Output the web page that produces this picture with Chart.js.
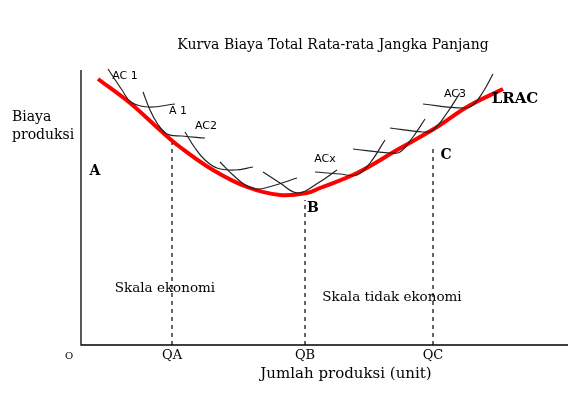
<!DOCTYPE html>
<html>
<head>
<meta charset="utf-8">
<script src="https://cdn.jsdelivr.net/npm/chart.js@4/dist/chart.umd.min.js"></script>
<style>
  body { margin: 0; background: #fff; }
  canvas { display: block; }
</style>
</head>
<body>
<canvas id="grafik" width="568" height="396"></canvas>
<script>
// jumlah produksi (sumbu x) dan biaya (sumbu y), satuan bebas dari titik O
const lracQ = [17, 49, 79, 99, 132, 166, 199, 226, 239, 276, 316, 356, 386, 422];
const lracBiaya = [266, 242, 215, 198, 175, 158, 150, 152, 157, 172, 195, 218, 238, 256];

// kurva biaya jangka pendek (AC1 ... AC3)
const acQ = [
  [27, 41, 50, 67, 94],
  [62, 69, 76, 86, 101, 124],
  [104, 114, 124, 136, 154, 172],
  [139, 152, 166, 179, 216],
  [182, 199, 217, 237, 256],
  [234, 259, 276, 289, 304],
  [272, 309, 319, 332, 344],
  [309, 342, 352, 366, 379],
  [342, 382, 392, 402, 412]
];
const acBiaya = [
  [276, 255, 243, 238, 241],
  [253, 235, 222, 211, 209, 207],
  [213, 197, 185, 177, 175, 178],
  [183, 170, 159, 156, 167],
  [173, 162, 152, 162, 175],
  [173, 171, 170, 182, 205],
  [196, 192, 193, 208, 226],
  [217, 213, 215, 232, 252],
  [241, 237, 240, 253, 271]
];

const tickQ = [91, 224, 352];
const tickLabel = ['QA', 'QB', 'QC'];
const garisPutusAtas = [202, 145, 199];

const sumbuXMaks = 487;
const sumbuYMaks = 275;

function titik(xs, ys) {
  return xs.map((x, i) => ({ x: x, y: ys[i] }));
}

const datasets = [];

// sumbu
datasets.push({
  data: [{ x: 0, y: sumbuYMaks }, { x: 0, y: 0 }, { x: sumbuXMaks, y: 0 }],
  borderColor: '#000', borderWidth: 1.3, tension: 0
});

// garis putus-putus QA, QB, QC
tickQ.forEach((q, i) => {
  datasets.push({
    data: [{ x: q, y: 0 }, { x: q, y: garisPutusAtas[i] }],
    borderColor: '#000', borderWidth: 1.2, borderDash: [4, 4], tension: 0
  });
});

acQ.forEach((xs, i) => {
  datasets.push({
    data: titik(xs, acBiaya[i]),
    borderColor: '#222', borderWidth: 1.2, tension: 0.4
  });
});

datasets.push({
  data: titik(lracQ, lracBiaya),
  borderColor: '#ff0000', borderWidth: 4, tension: 0.4
});

const teks = [
  { t: 'Kurva Biaya Total Rata-rata Jangka Panjang', x: 333, y: 45, f: '14px "DejaVu Serif"' },
  { t: 'Biaya', x: 12, y: 117, f: '14px "DejaVu Serif"', a: 'left' },
  { t: 'produksi', x: 12, y: 135, f: '14px "DejaVu Serif"', a: 'left' },
  { t: 'AC 1', x: 125, y: 76, f: '11px "DejaVu Sans"' },
  { t: 'A 1', x: 178, y: 111, f: '11px "DejaVu Sans"' },
  { t: 'AC2', x: 206, y: 126, f: '11px "DejaVu Sans"' },
  { t: 'ACx', x: 325, y: 159, f: '11px "DejaVu Sans"' },
  { t: 'AC3', x: 455, y: 94, f: '11px "DejaVu Sans"' },
  { t: 'LRAC', x: 515, y: 99, f: 'bold 15px "DejaVu Serif"' },
  { t: 'A', x: 95, y: 171, f: 'bold 14px "DejaVu Serif"' },
  { t: 'B', x: 313, y: 208, f: 'bold 14px "DejaVu Serif"' },
  { t: 'C', x: 446, y: 155, f: 'bold 14px "DejaVu Serif"' },
  { t: 'Skala ekonomi', x: 165, y: 288, f: '13.5px "DejaVu Serif"' },
  { t: 'Skala tidak ekonomi', x: 392, y: 297, f: '13.5px "DejaVu Serif"' },
  { t: 'O', x: 69, y: 356, f: '10px "DejaVu Serif"' },
  { t: 'Jumlah produksi (unit)', x: 346, y: 374, f: '15px "DejaVu Serif"' }
];

const pluginTeks = {
  id: 'teks',
  afterDatasetsDraw(chart) {
    const ctx = chart.ctx;
    const sx = chart.scales.x;
    ctx.save();
    ctx.fillStyle = '#000';
    ctx.textBaseline = 'middle';
    teks.forEach(item => {
      ctx.font = item.f;
      ctx.textAlign = item.a || 'center';
      ctx.fillText(item.t, item.x, item.y);
    });
    // label QA QB QC di bawah sumbu
    ctx.font = '13px "DejaVu Serif"';
    ctx.textAlign = 'center';
    tickQ.forEach((q, i) => {
      ctx.fillText(tickLabel[i], sx.getPixelForValue(q), 356);
    });
    ctx.restore();
  }
};

new Chart(document.getElementById('grafik'), {
  type: 'scatter',
  data: { datasets: datasets },
  options: {
    responsive: false,
    animation: false,
    showLine: true,
    layout: { padding: 0 },
    elements: { point: { radius: 0, hoverRadius: 0 } },
    plugins: { legend: { display: false }, tooltip: { enabled: false } },
    scales: {
      x: { type: 'linear', min: -81, max: 487, display: false },
      y: { type: 'linear', min: -51, max: 345, display: false }
    }
  },
  plugins: [pluginTeks]
});
</script>
</body>
</html>
